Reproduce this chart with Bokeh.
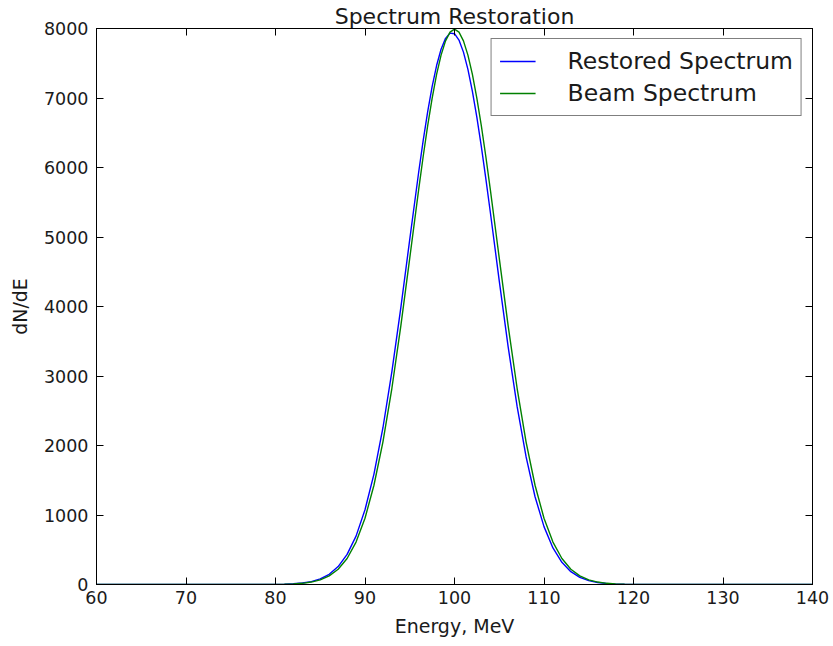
from bokeh.plotting import figure
from bokeh.models import Range1d, LinearAxis, SingleIntervalTicker, Legend, LegendItem
from bokeh.embed import file_html
from bokeh.resources import INLINE

# Energy grid (MeV)
energy = [60, 65, 70, 75, 78, 79, 80, 81, 82, 83, 84, 85, 86, 87, 88, 89, 90,
          91, 92, 93, 94, 95, 96, 96.5, 97, 97.5, 98, 98.5, 99, 99.5, 100,
          100.5, 101, 101.5, 102, 102.5, 103, 103.5, 104, 105,
          106, 107, 108, 109, 110, 111, 112, 113, 114, 115, 116, 117, 118,
          119, 120, 122, 125, 130, 135, 140]

restored = [0, 0, 0, 0, 0, 1, 2, 5, 10, 21, 42, 80, 147, 258, 433, 696, 1075,
            1589, 2252, 3058, 3980, 4965, 5935, 6387, 6800, 7164, 7467, 7701,
            7858, 7933, 7925, 7833, 7660, 7412, 7095, 6721, 6299, 5841, 5360,
            4370, 3415, 2558, 1836, 1263, 833, 526, 319, 185,
            103, 55, 28, 14, 6, 3, 1, 0, 0, 0, 0, 0]

beam = [0, 0, 0, 0, 0, 1, 2, 4, 8, 17, 35, 67, 124, 220, 374, 610, 953,
        1428, 2050, 2820, 3717, 4696, 5686, 6158, 6599, 6996, 7339, 7617,
        7822, 7948, 7990, 7948, 7822, 7617, 7339, 6996, 6599, 6158, 5686,
        4696, 3717, 2820, 2050, 1428, 953, 610, 374, 220,
        124, 67, 35, 17, 8, 4, 2, 1, 0, 0, 0, 0]

title_text = "Spectrum Restoration"
x_label = "Energy, MeV"
y_label = "dN/dE"
names = ["Restored Spectrum", "Beam Spectrum"]

FONT = "DejaVu Sans"

p = figure(width=833, height=646, output_backend="svg", toolbar_location=None,
           x_range=Range1d(60, 140), y_range=Range1d(0, 8000),
           min_border_left=96, min_border_right=21, min_border_top=28,
           min_border_bottom=62)
p.xgrid.visible = False
p.ygrid.visible = False
p.outline_line_color = "black"
p.outline_line_width = 1
p.background_fill_color = "white"
p.border_fill_color = "white"

p.title.text = title_text
p.title.align = "center"
p.title.text_font = FONT
p.title.text_font_size = "22px"
p.title.text_font_style = "normal"
p.title.text_color = "#1a1a1a"
p.title.standoff = 0
p.title.offset = 0

r1 = p.line(energy, restored, line_color="#0000ff", line_width=1.4)
r2 = p.line(energy, beam, line_color="#008000", line_width=1.4)

def style_axis(ax, show_labels):
    ax.axis_line_color = "black"
    ax.major_tick_in = 7
    ax.major_tick_out = 0
    ax.minor_tick_in = 0
    ax.minor_tick_out = 0
    ax.major_tick_line_color = "black"
    if show_labels:
        ax.major_label_text_font = FONT
        ax.major_label_text_font_size = "17.5px"
        ax.major_label_text_color = "#1a1a1a"
        ax.axis_label_text_font = FONT
        ax.axis_label_text_font_size = "19px"
        ax.axis_label_text_font_style = "normal"
        ax.axis_label_text_color = "#1a1a1a"
    else:
        ax.major_label_text_color = None
        ax.major_label_text_font_size = "1px"
        ax.major_label_standoff = 0

p.xaxis.ticker = SingleIntervalTicker(interval=10)
p.yaxis.ticker = SingleIntervalTicker(interval=1000)
style_axis(p.xaxis[0], True)
style_axis(p.yaxis[0], True)
p.xaxis.axis_label = x_label
p.yaxis.axis_label = y_label
p.xaxis.major_label_standoff = 6
p.xaxis.axis_label_standoff = 8
p.yaxis.major_label_standoff = 8
p.yaxis.axis_label_standoff = 10

top_ax = LinearAxis(ticker=SingleIntervalTicker(interval=10))
right_ax = LinearAxis(ticker=SingleIntervalTicker(interval=1000))
style_axis(top_ax, False)
style_axis(right_ax, False)
p.add_layout(top_ax, "above")
p.add_layout(right_ax, "right")

legend = Legend(items=[LegendItem(label=names[0], renderers=[r1]),
                       LegendItem(label=names[1], renderers=[r2])],
                location="top_right")
legend.label_text_font = FONT
legend.label_text_font_size = "23.5px"
legend.label_text_color = "#1a1a1a"
legend.border_line_color = "black"
legend.border_line_width = 1
legend.background_fill_alpha = 1
legend.glyph_width = 36
legend.glyph_height = 22
legend.label_height = 22
legend.label_standoff = 32
legend.spacing = 4
legend.padding = 8
legend.margin = 10
p.add_layout(legend, "center")

open("out.html", "w").write(file_html(p, INLINE))
